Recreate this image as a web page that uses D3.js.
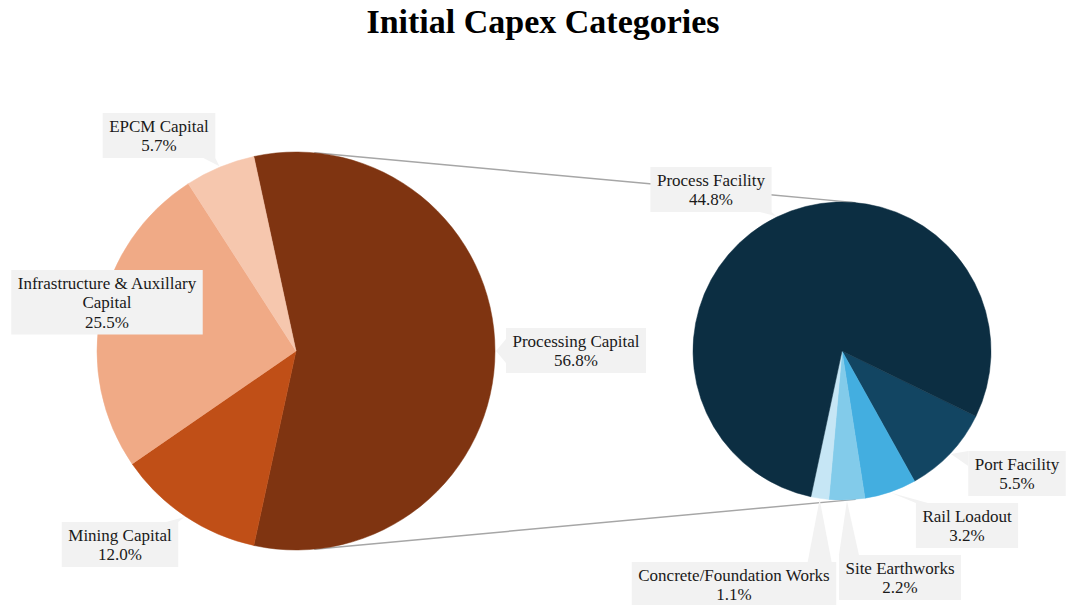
<!DOCTYPE html>
<html>
<head>
<meta charset="utf-8">
<script src="https://cdn.jsdelivr.net/npm/d3@7"></script>
<style>
  html, body { margin: 0; padding: 0; background: #ffffff; }
  svg { display: block; }
  text { font-family: "Liberation Serif", "Times New Roman", serif; }
</style>
</head>
<body>
<svg id="chart" width="1074" height="605"></svg>
<script>
// Top-level spending categories (percent of initial capex)
const primaryNames = ["Processing Capital", "Mining Capital", "Infrastructure & Auxillary Capital", "EPCM Capital"];
const primaryValues = [56.8, 12.0, 25.5, 5.7];
const primaryColors = ["#7f3411", "#c04f17", "#f0aa86", "#f6c7ae"];

// Breakdown of Processing Capital
const secondaryNames = ["Port Facility", "Rail Loadout", "Site Earthworks", "Concrete/Foundation Works", "Process Facility"];
const secondaryValues = [5.5, 3.2, 2.2, 1.1, 44.8];
const secondaryColors = ["#124562", "#43aee0", "#82cbea", "#c6e6f5", "#0c2e42"];

const titleText = "Initial Capex Categories";

// Label callout placement: box centre x, box top y, wrap width
const labelLayout = {
  "Processing Capital": { x: 576, y: 328, w: 170 },
  "Mining Capital": { x: 120, y: 522, w: 170 },
  "Infrastructure & Auxillary Capital": { x: 107, y: 270, w: 190 },
  "EPCM Capital": { x: 159, y: 113, w: 170 },
  "Port Facility": { x: 1017, y: 451, w: 170 },
  "Rail Loadout": { x: 967, y: 503, w: 170 },
  "Site Earthworks": { x: 900, y: 555, w: 170 },
  "Concrete/Foundation Works": { x: 734, y: 562, w: 220 },
  "Process Facility": { x: 711, y: 167, w: 170 }
};

const svg = d3.select("#chart");
const W = 1074, H = 605;

// Geometry of the two pies
const left = { cx: 296, cy: 351, r: 199 };
const right = { cx: 842, cy: 351, r: 149 };

// Title
svg.append("text")
  .attr("x", W / 2 + 6)
  .attr("y", 33)
  .attr("text-anchor", "middle")
  .attr("font-size", 34)
  .attr("font-weight", "bold")
  .attr("fill", "#000")
  .text(titleText);

const total = d3.sum(primaryValues);
const splitShare = primaryValues[0] / total;
const deg = Math.PI / 180;

// Left pie: split slice centred on the 3 o'clock direction
const leftStart = Math.PI / 2 - splitShare * Math.PI;
const leftPie = d3.pie().sort(null).value(d => d.value)
  .startAngle(leftStart).endAngle(leftStart + 2 * Math.PI);
const leftData = leftPie(primaryNames.map((n, i) => ({ name: n, value: primaryValues[i], color: primaryColors[i] })));

// Right pie: small slices grouped at the bottom right
const rightStart = 116 * deg;
const rightPie = d3.pie().sort(null).value(d => d.value)
  .startAngle(rightStart).endAngle(rightStart + 2 * Math.PI);
const rightData = rightPie(secondaryNames.map((n, i) => ({ name: n, value: secondaryValues[i], color: secondaryColors[i] })));

// Connector lines along the outer tangents of both circles
const dist = right.cx - left.cx;
const theta = Math.asin((left.r - right.r) / dist);
const connectors = [
  [[left.cx + left.r * Math.sin(theta), left.cy - left.r * Math.cos(theta)],
   [right.cx + right.r * Math.sin(theta), right.cy - right.r * Math.cos(theta)]],
  [[left.cx + left.r * Math.sin(theta), left.cy + left.r * Math.cos(theta)],
   [right.cx + right.r * Math.sin(theta), right.cy + right.r * Math.cos(theta)]]
];
svg.append("g").selectAll("line").data(connectors).join("line")
  .attr("x1", d => d[0][0]).attr("y1", d => d[0][1])
  .attr("x2", d => d[1][0]).attr("y2", d => d[1][1])
  .attr("stroke", "#a6a6a6").attr("stroke-width", 1.5);

function drawPie(data, geo) {
  const arc = d3.arc().innerRadius(0).outerRadius(geo.r);
  svg.append("g")
    .attr("transform", `translate(${geo.cx},${geo.cy})`)
    .selectAll("path").data(data).join("path")
    .attr("d", arc)
    .attr("fill", d => d.data.color)
    .attr("stroke", d => d.data.color)
    .attr("stroke-width", 0.5);
}
drawPie(leftData, left);
drawPie(rightData, right);

// Callout labels
const fontSize = 17, lineH = 19.5, padX = 6.5, firstBase = 18.5, padV = 6;
const labelLayer = svg.append("g");

function wrapWords(text, maxW, measure) {
  const words = text.split(" ");
  const lines = [];
  let cur = "";
  words.forEach(w => {
    const trial = cur ? cur + " " + w : w;
    if (cur && measure(trial) > maxW) { lines.push(cur); cur = w; }
    else cur = trial;
  });
  if (cur) lines.push(cur);
  return lines;
}

const measurer = svg.append("text").attr("font-size", fontSize).attr("visibility", "hidden");
const measure = s => { measurer.text(s); return measurer.node().getComputedTextLength(); };

function addCallout(d, geo) {
  const name = d.data.name;
  const lay = labelLayout[name];
  const lines = wrapWords(name, lay.w, measure);
  lines.push(d.data.value.toFixed(1) + "%");
  const textW = d3.max(lines, measure);
  const bw = textW + padX * 2;
  const bh = lines.length * lineH + padV;
  const bx = lay.x - bw / 2, by = lay.y;

  // pointer tip at the slice's outer edge, middle angle
  const mid = (d.startAngle + d.endAngle) / 2;
  const tip = [geo.cx + Math.sin(mid) * (geo.r + 1), geo.cy - Math.cos(mid) * (geo.r + 1)];
  const cxp = Math.max(bx, Math.min(bx + bw, tip[0]));
  const cyp = Math.max(by, Math.min(by + bh, tip[1]));
  const g = labelLayer.append("g");
  const inside = tip[0] > bx && tip[0] < bx + bw && tip[1] > by && tip[1] < by + bh;
  if (!inside) {
    let b1, b2;
    const half = 12;
    if (cyp === by || cyp === by + bh) {
      const xa = Math.max(bx, cxp - half), xb = Math.min(bx + bw, cxp + half);
      b1 = [xa, cyp]; b2 = [xb, cyp];
    } else {
      const ya = Math.max(by, cyp - half), yb = Math.min(by + bh, cyp + half);
      b1 = [cxp, ya]; b2 = [cxp, yb];
    }
    g.append("path")
      .attr("d", d3.line()([b1, b2, tip]) + "Z")
      .attr("fill", "#f2f2f2");
  }
  g.append("rect")
    .attr("x", bx).attr("y", by).attr("width", bw).attr("height", bh)
    .attr("fill", "#f2f2f2");
  const t = g.append("text")
    .attr("font-size", fontSize)
    .attr("fill", "#1a1a1a")
    .attr("text-anchor", "middle");
  lines.forEach((ln, i) => {
    t.append("tspan")
      .attr("x", lay.x)
      .attr("y", by + firstBase + i * lineH)
      .text(ln);
  });
}

leftData.forEach(d => addCallout(d, left));
rightData.forEach(d => addCallout(d, right));
measurer.remove();
</script>
</body>
</html>
